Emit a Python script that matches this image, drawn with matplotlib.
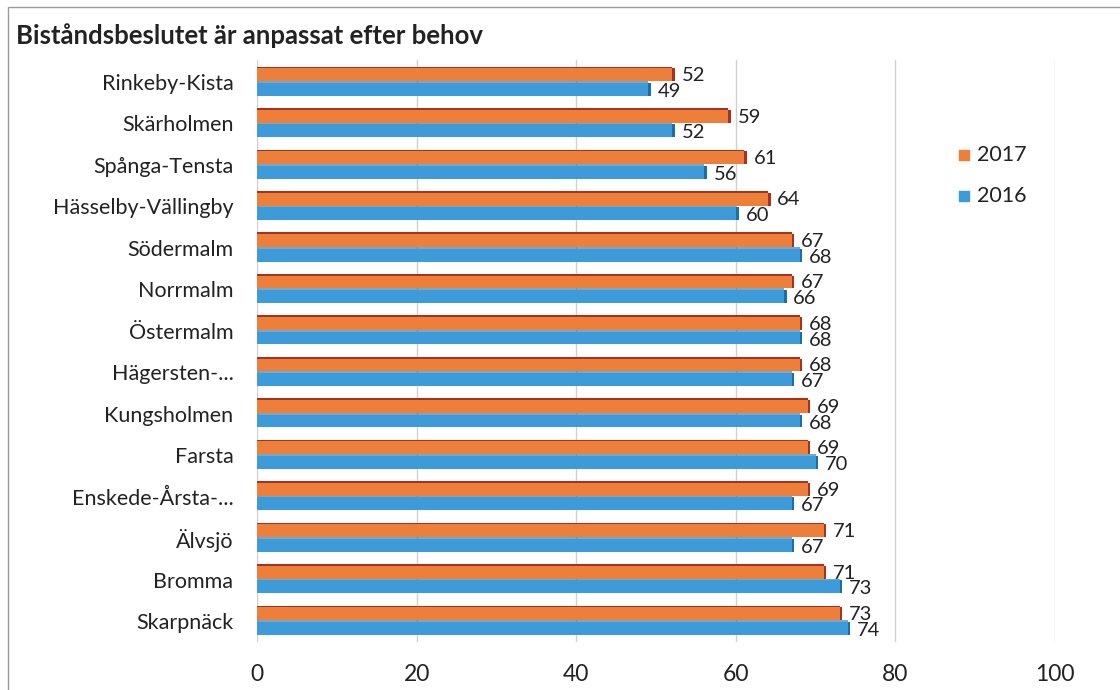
import numpy as np
import matplotlib
matplotlib.use("Agg")
import matplotlib.pyplot as plt
from matplotlib.patches import Rectangle

# data
districts = [
    "Rinkeby-Kista", "Skärholmen", "Spånga-Tensta", "Hässelby-Vällingby",
    "Södermalm", "Norrmalm", "Östermalm", "Hägersten-...", "Kungsholmen",
    "Farsta", "Enskede-Årsta-...", "Älvsjö", "Bromma", "Skarpnäck",
]
values_2017 = [52, 59, 61, 64, 67, 67, 68, 68, 69, 69, 69, 71, 71, 73]
values_2016 = [49, 52, 56, 60, 68, 66, 68, 67, 68, 70, 67, 67, 73, 74]
x_ticks = [0, 20, 40, 60, 80, 100]

orange = "#EE7F3A"
orange_dark = "#A8321E"
blue = "#3C9BD8"
blue_dark = "#1B6FA8"

plt.rcParams["font.family"] = ["Lato", "DejaVu Sans"]

fig = plt.figure(figsize=(11.2, 6.9), dpi=100)
ax = fig.add_axes([0.2295, 0.07, 0.7125, 0.843])

# chart frame (scanned Excel chart border)
fig.patches.append(Rectangle((0.007, -0.01), 1.0, 1.0, transform=fig.transFigure,
                             fill=False, edgecolor="#9a9a9a", linewidth=1.0))

y = np.arange(len(districts))
h = 0.31
off = 0.175

ax.barh(y - off, values_2017, height=h, color=orange, zorder=3)
ax.barh(y + off, values_2016, height=h, color=blue, zorder=3)
# thin darker top face to mimic the 3D look
ax.barh(y - off - h / 2 - 0.02, values_2017, height=0.04, color=orange_dark, zorder=3)
ax.barh(y + off - h / 2 - 0.02, values_2016, height=0.04, color=blue_dark, zorder=3, alpha=0.6)
# end caps
ax.barh(y - off, [0.35] * len(y), left=values_2017, height=h, color=orange_dark, zorder=3)
ax.barh(y + off, [0.35] * len(y), left=values_2016, height=h, color=blue_dark, zorder=3)

for yi, v in zip(y, values_2017):
    ax.text(v + 1.2, yi - off + 0.02, str(v), va="center", ha="left", fontsize=14.5, color="#222222")
for yi, v in zip(y, values_2016):
    ax.text(v + 1.2, yi + off + 0.05, str(v), va="center", ha="left", fontsize=14.5, color="#222222")

ax.set_xlim(0, 100)
ax.set_ylim(len(districts) - 0.5, -0.53)
ax.set_xticks(x_ticks)
ax.set_xticklabels([str(t) for t in x_ticks], fontsize=16.5, color="#222222")
ax.set_yticks(y)
ax.set_yticklabels(districts, fontsize=15.5, color="#222222")
ax.tick_params(axis="both", length=0)
ax.tick_params(axis="x", pad=16)
ax.tick_params(axis="y", pad=17)
for s in ax.spines.values():
    s.set_visible(False)
ax.grid(axis="x", color="#d0d0d0", linewidth=1.0, zorder=0)
ax.set_axisbelow(True)

# legend
ax.scatter([88.6], [1.75], marker="s", s=55, color=orange, zorder=4)
ax.text(90.2, 1.75, "2017", va="center", ha="left", fontsize=15.5, color="#222222")
ax.scatter([88.6], [2.75], marker="s", s=55, color=blue, zorder=4)
ax.text(90.2, 2.75, "2016", va="center", ha="left", fontsize=15.5, color="#222222")

fig.text(0.014, 0.948, "Biståndsbeslutet är anpassat efter behov", fontsize=18.5,
         fontweight="bold", color="#222222", va="center", ha="left")

fig.savefig("out.png", dpi=100, facecolor="white")
